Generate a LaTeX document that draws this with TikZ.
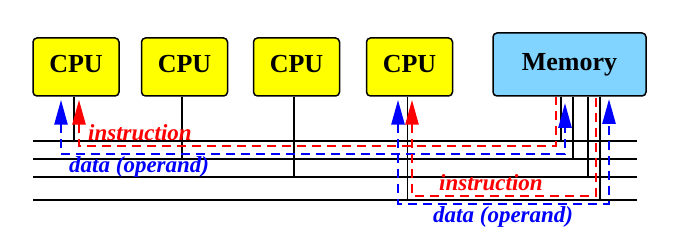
\documentclass[tikz,border=0pt]{standalone}
\usepackage{fontspec}
\setmainfont{Liberation Serif}
\usetikzlibrary{arrows.meta}
\definecolor{cpuyellow}{RGB}{255,255,0}
\definecolor{memblue}{RGB}{128,212,255}
\definecolor{sigred}{RGB}{255,0,0}
\definecolor{sigblue}{RGB}{0,0,255}
\tikzset{sigtip/.tip={Triangle[width=13pt, length=25pt]}}
\begin{document}
\begin{tikzpicture}[x=1pt,y=-1pt,
  box/.style={draw=black, line width=1.5pt, rounded corners=4pt, inner sep=0pt,
    font=\fontsize{26}{30}\selectfont\bfseries, text height=18pt, text depth=6pt},
  cpubox/.style={box, fill=cpuyellow, minimum width=86pt, minimum height=58pt},
  membox/.style={box, fill=memblue, minimum width=153pt, minimum height=63pt},
  bus/.style={draw=black, line width=1.4pt},
  sig/.style={line width=2.7pt, dash pattern=on 9pt off 6pt},
  redsig/.style={sig, draw=sigred},
  bluesig/.style={sig, draw=sigblue},
  lab/.style={inner sep=0pt, anchor=base west, font=\fontsize{23}{27}\selectfont\bfseries\itshape},
]
\useasboundingbox (0,0) rectangle (688,251);

% boxes
\node[cpubox] (cpu1) at (76,67) {CPU};
\node[cpubox] (cpu2) at (184.5,67) {CPU};
\node[cpubox] (cpu3) at (296.5,67) {CPU};
\node[cpubox] (cpu4) at (409.5,67) {CPU};
\node[membox] (mem) at (569.5,64.5) {Memory};

% bus lines
\coordinate (b1l) at (33,141); \coordinate (b1r) at (637,141);
\coordinate (b2l) at (33,159); \coordinate (b2r) at (637,159);
\coordinate (b3l) at (33,177); \coordinate (b3r) at (637,177);
\coordinate (b4l) at (33,200); \coordinate (b4r) at (637,200);
\draw[bus] (b1l) -- (b1r);
\draw[bus] (b2l) -- (b2r);
\draw[bus] (b3l) -- (b3r);
\draw[bus] (b4l) -- (b4r);

% taps
\draw[bus] ([xshift=-2pt]cpu1.south) -- ([xshift=-2pt]cpu1.south |- b1l);
\draw[bus] ([xshift=-2.5pt]cpu2.south) -- ([xshift=-2.5pt]cpu2.south |- b2l);
\draw[bus] ([xshift=-2.5pt]cpu3.south) -- ([xshift=-2.5pt]cpu3.south |- b3l);
\draw[bus] ([xshift=-2pt]cpu4.south) -- ([xshift=-2pt]cpu4.south |- b4l);
\draw[bus] ([xshift=-8.5pt]mem.south) -- ([xshift=-8.5pt]mem.south |- b1l);
\draw[bus] ([xshift=3.5pt]mem.south) -- ([xshift=3.5pt]mem.south |- b2l);
\draw[bus] ([xshift=18.5pt]mem.south) -- ([xshift=18.5pt]mem.south |- b3l);
\draw[bus] ([xshift=30.5pt]mem.south) -- ([xshift=30.5pt]mem.south |- b4l);

% signal paths, first CPU
\coordinate (d1a) at ([xshift=-15pt,yshift=-3pt]cpu1.south);
\coordinate (d1b) at (565,103);
\draw[bluesig, {sigtip}-{sigtip}] (d1a) -- (d1a |- 0,154) -- (d1b |- 0,154) -- (d1b);
\coordinate (i1a) at ([xshift=3pt,yshift=-3pt]cpu1.south);
\coordinate (i1b) at ([xshift=-13.5pt]mem.south);
\draw[redsig, {sigtip}-] (i1a) -- (i1a |- 0,146) -- (i1b |- 0,146) -- (i1b);

% signal paths, fourth CPU
\coordinate (d4a) at ([xshift=-11.5pt,yshift=-3pt]cpu4.south);
\coordinate (d4b) at (609,99);
\draw[bluesig, {sigtip}-{sigtip}] (d4a) -- (d4a |- 0,204) -- (d4b |- 0,204) -- (d4b);
\coordinate (i4a) at ([xshift=2.5pt,yshift=-3pt]cpu4.south);
\coordinate (i4b) at ([xshift=26.5pt]mem.south);
\draw[redsig, {sigtip}-] (i4a) -- (i4a |- 0,196) -- (i4b |- 0,196) -- (i4b);

% labels
\node[lab, text=sigred] (l1) at (88,141) {instruction};
\node[lab, text=sigblue] (l2) at (69,172) {data (operand)};
\node[lab, text=sigred] (l3) at (439,190) {instruction};
\node[lab, text=sigblue] (l4) at (433,222) {data (operand)};
\end{tikzpicture}
\end{document}
